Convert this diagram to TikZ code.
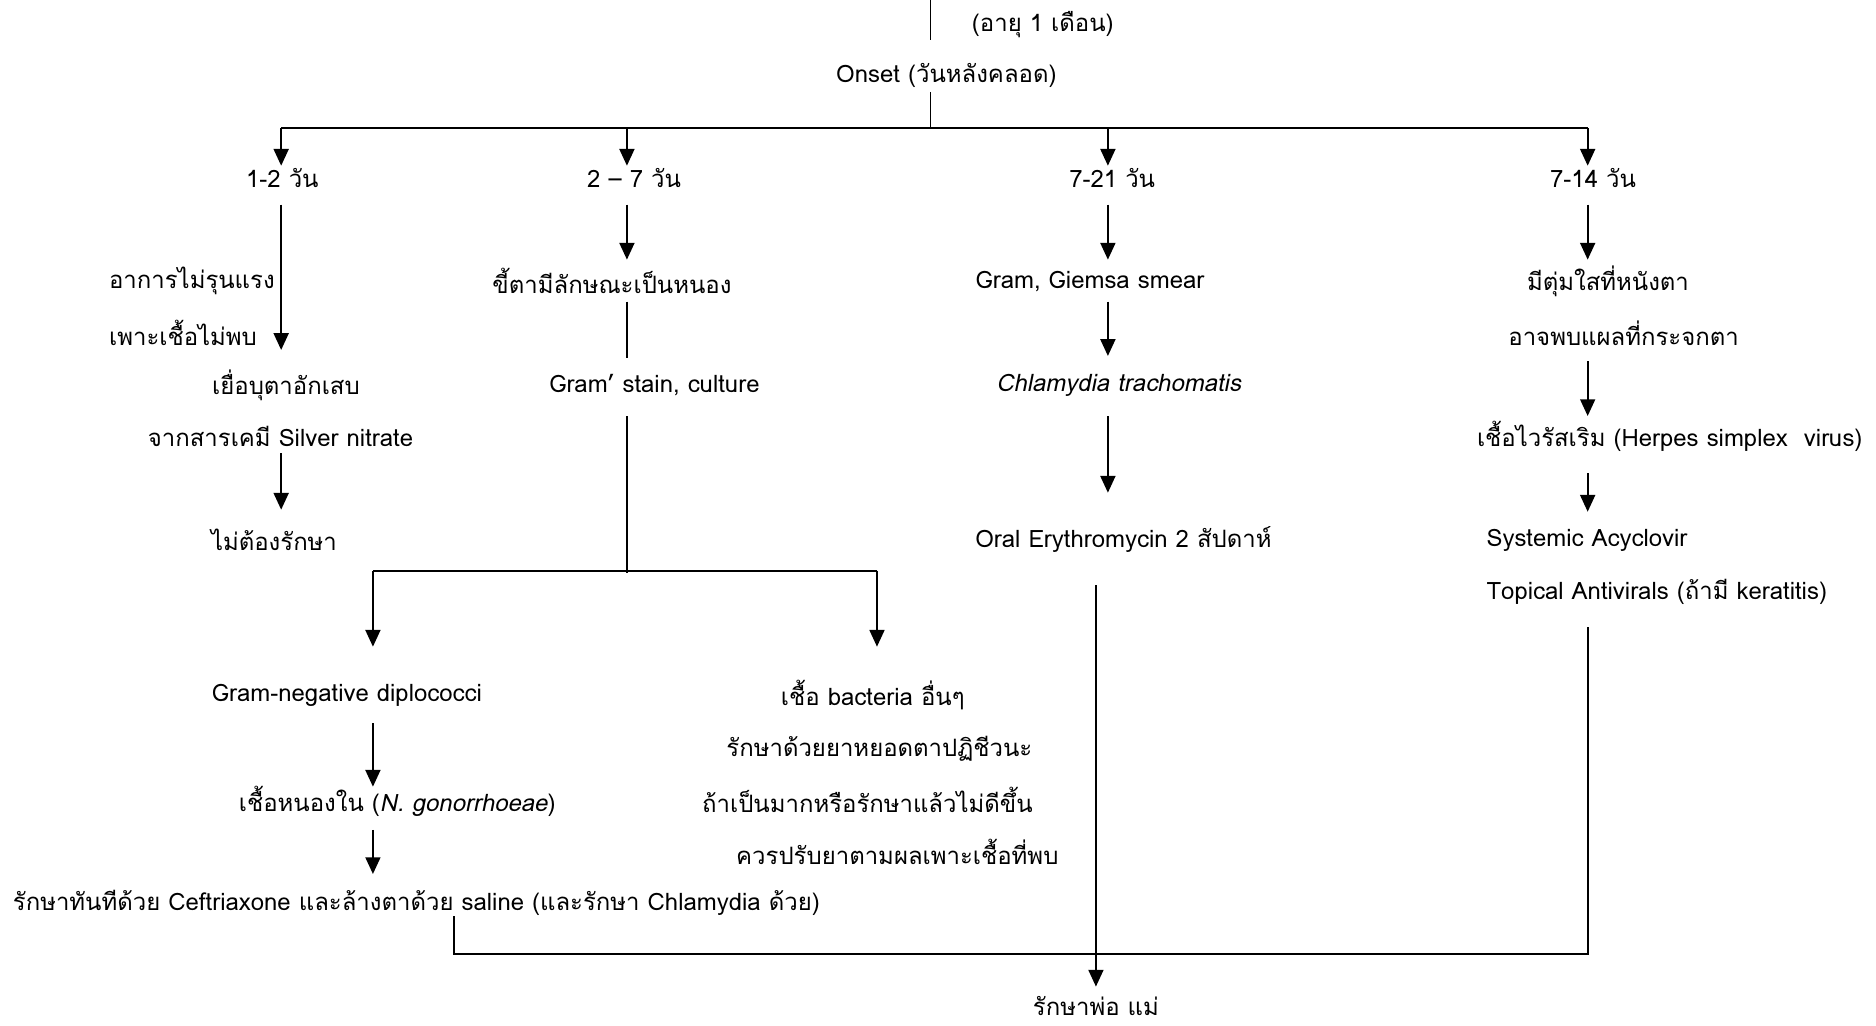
\documentclass[tikz,border=0pt]{standalone}
\usepackage{fontspec}
\usetikzlibrary{arrows.meta}
\newfontfamily\tf[Script=Thai]{Loma}
\newfontfamily\tfit[Script=Thai,FakeSlant=0.2]{Loma}
\newcommand{\itx}[1]{{\tfit #1}}
\tikzset{
  txt/.style={inner sep=0pt, font=\tf\fontsize{20}{23}\selectfont},
  ln/.style={line width=1.6pt},
  thin/.style={line width=1.2pt},
  arr/.style={line width=1.6pt, -{Triangle[length=14pt,width=12.5pt]}},
}
\begin{document}
\begin{tikzpicture}[x=1pt,y=-1pt]
\useasboundingbox (0,0) rectangle (1568,857);

% ---- text nodes ----
\node[txt] (age)   at (871.6,20.9) {(อายุ 1 เดือน)};
\node[txt] (onset) at (791,62.7)   {Onset (วันหลังคลอด)};
\node[txt] (d1) at (236,149)    {1-2 วัน};
\node[txt] (d2) at (530,149)    {2 – 7 วัน};
\node[txt] (d3) at (929.6,149)  {7-21 วัน};
\node[txt] (d4) at (1331.5,149) {7-14 วัน};

\node[txt,anchor=west] (a1) at (91,235)   {อาการไม่รุนแรง};
\node[txt,anchor=west] (a2) at (91,278.6) {เพาะเชื้อไม่พบ};
\node[txt] (a3) at (239,321.8) {เยื่อบุตาอักเสบ};
\node[txt] (a4) at (234.5,365) {จากสารเคมี Silver nitrate};
\node[txt] (a5) at (229,451)   {ไม่ต้องรักษา};

\node[txt] (p1) at (511.5,235) {ขี้ตามีลักษณะเป็นหนอง};
\node[txt] (p2) at (547,321.8) {Gram’ stain, culture};

\node[txt] (g1) at (290,581) {Gram-negative diplococci};
\node[txt] (g2) at (332,670) {เชื้อหนองใน (\itx{N. gonorrhoeae})};
\node[txt] (g3) at (348,755) {รักษาทันทีด้วย Ceftriaxone และล้างตาด้วย saline (และรักษา Chlamydia ด้วย)};

\node[txt] (o1) at (729.5,581) {เชื้อ bacteria อื่นๆ};
\node[txt] (o2) at (735,625.5) {รักษาด้วยยาหยอดตาปฏิชีวนะ};
\node[txt] (o3) at (725,668.6) {ถ้าเป็นมากหรือรักษาแล้วไม่ดีขึ้น};
\node[txt] (o4) at (750,711.8) {ควรปรับยาตามผลเพาะเชื้อที่พบ};

\node[txt] (c1) at (911,235)   {Gram, Giemsa smear};
\node[txt] (c2) at (935,321.8) {\itx{Chlamydia trachomatis}};
\node[txt] (c3) at (939,451.3) {Oral Erythromycin 2 สัปดาห์};

\node[txt] (h1) at (1344,235)    {มีตุ่มใสที่หนังตา};
\node[txt] (h2) at (1357,278.6)  {อาจพบแผลที่กระจกตา};
\node[txt] (h3) at (1395.6,365)  {เชื้อไวรัสเริม (Herpes simplex~ virus)};
\node[txt,anchor=west] (h4) at (1242.3,452)   {Systemic Acyclovir};
\node[txt,anchor=west] (h5) at (1242.3,494.5) {Topical Antivirals (ถ้ามี keratitis)};

\node[txt] (par) at (916,841) {รักษาพ่อ แม่};

% ---- junction points ----
\coordinate (top) at (777.5,0);
\coordinate (bm)  at (777.5,107.3);
\coordinate (k1)  at (235,107.3);
\coordinate (k2)  at (524,107.3);
\coordinate (k3)  at (926,107.3);
\coordinate (k4)  at (1327,107.3);
\coordinate (j2)  at (524,479);
\coordinate (m1)  at (311.7,477);
\coordinate (m2)  at (733,477);
\coordinate (l)   at (379.8,797);
\coordinate (r)   at (1327,797);

% ---- trunk ----
\draw[thin] (top) -- ([yshift=29.3pt]onset.center -| top);
\draw[thin] ([yshift=-14pt]onset.center -| top) -- (bm);
\draw[ln] (k1) -- (k4);
\draw[arr] (k1) -- ([yshift=10.5pt]d1.center -| k1);
\draw[arr] (k2) -- ([yshift=10.5pt]d2.center -| k2);
\draw[arr] (k3) -- ([yshift=10.5pt]d3.center -| k3);
\draw[arr] (k4) -- ([yshift=10.5pt]d4.center -| k4);

% ---- 1-2 days ----
\draw[arr] ([yshift=-22pt]d1.center -| k1) -- ([yshift=29.3pt]a3.center -| k1);
\draw[arr] ([yshift=-14pt]a4.center -| k1) -- ([yshift=25pt]a5.center -| k1);

% ---- 2-7 days ----
\draw[arr] ([yshift=-22pt]d2.center -| k2) -- ([yshift=18pt]p1.center -| k2);
\draw[thin] ([yshift=-17pt]p1.center -| k2) -- ([yshift=22.3pt]p2.center -| k2);
\draw[thin] ([yshift=-26.2pt]p2.center -| k2) -- (j2);
\draw[ln] (m1) -- (m2);
\draw[arr] (m1) -- ([yshift=40.5pt]g1.center -| m1);
\draw[arr] (m2) -- ([yshift=40.5pt]o1.center -| m2);
\draw[arr] ([yshift=-23.5pt]g1.center -| m1) -- ([yshift=12.5pt]g2.center -| m1);
\draw[arr] ([yshift=-23.7pt]g2.center -| m1) -- ([yshift=24.5pt]g3.center -| m1);

% ---- 7-21 days ----
\draw[arr] ([yshift=-22pt]d3.center -| k3) -- ([yshift=18pt]c1.center -| k3);
\draw[arr] ([yshift=-17pt]c1.center -| k3) -- ([yshift=24.3pt]c2.center -| k3);
\draw[arr] ([yshift=-26.2pt]c2.center -| k3) -- ([yshift=39.5pt]c3.center -| k3);
\draw[arr] ([yshift=-37.7pt]c3.center -| par.center) -- ([yshift=16.4pt]par.center);

% ---- 7-14 days ----
\draw[arr] ([yshift=-22pt]d4.center -| k4) -- ([yshift=18pt]h1.center -| k4);
\draw[arr] ([yshift=-23.4pt]h2.center -| k4) -- ([yshift=17.3pt]h3.center -| k4);
\draw[arr] ([yshift=-30.6pt]h3.center -| k4) -- ([yshift=24.3pt]h4.center -| k4);

% ---- lines joining into the parents' treatment ----
\draw[ln] ([yshift=-29.8pt]h5.center -| k4) -- (r) -- (l) -- ([yshift=-11pt]g3.center -| l);
\end{tikzpicture}
\end{document}
